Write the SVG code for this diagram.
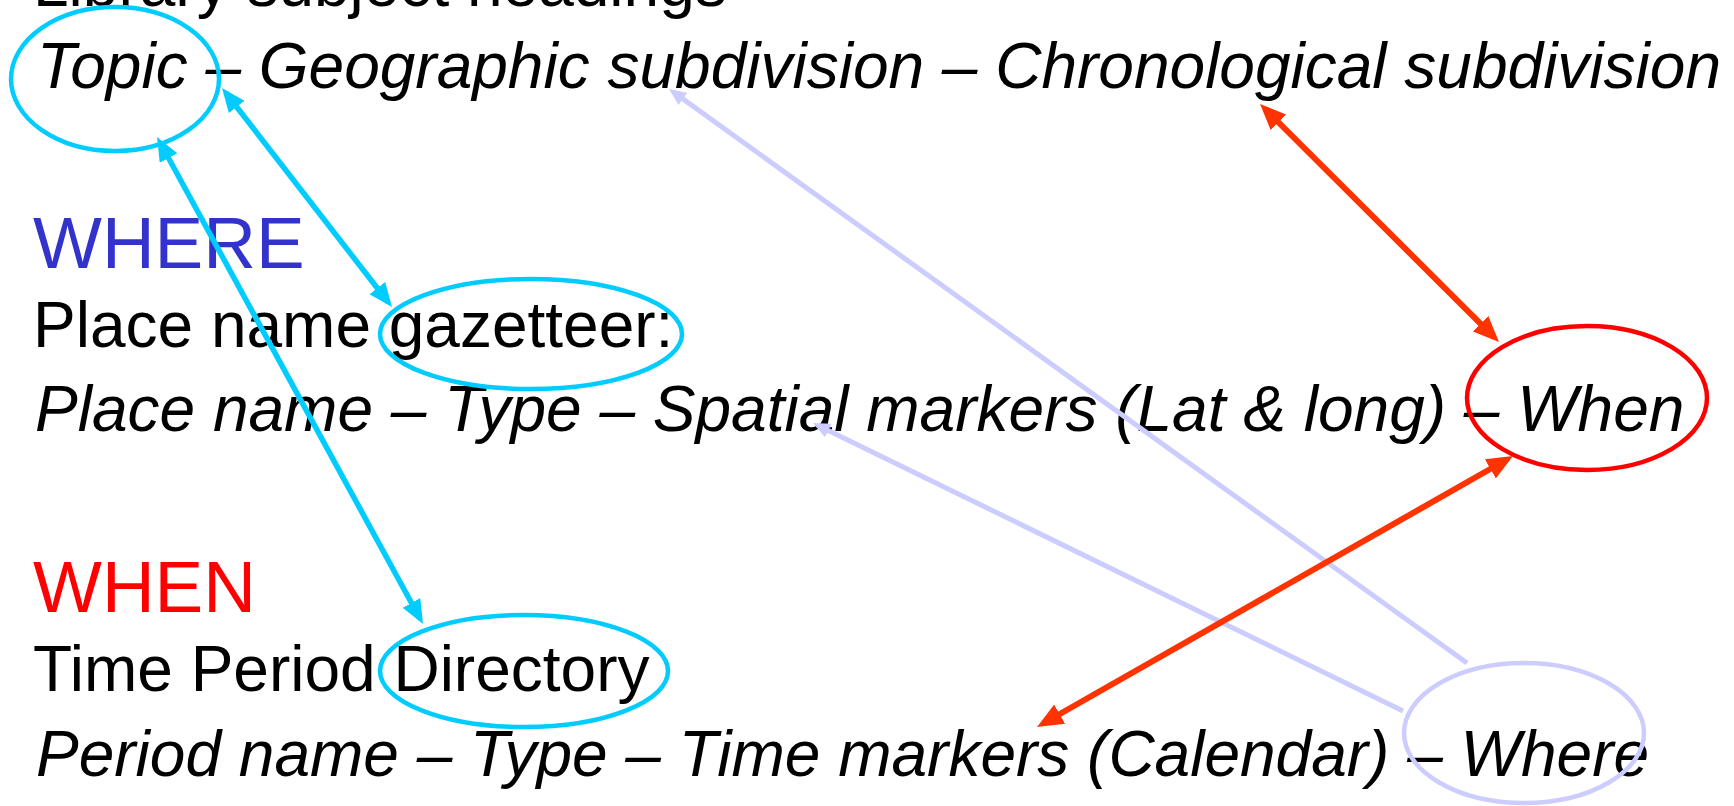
<svg xmlns="http://www.w3.org/2000/svg" width="1734" height="806" viewBox="0 0 1734 806">
<style>
  .t { font-family: "Liberation Sans", Arial, sans-serif; font-size: 64px; fill: #000; }
  .i { font-style: italic; }
  .h { font-size: 73px; }
  .ring { fill: none; stroke-width: 4.5; }
  .cy { stroke: #00CCFF; }
  .rd { stroke: #FF0000; }
  .lv { stroke: #CCCCFF; }
  .c-cy { stroke: #00CCFF; stroke-width: 5.5; fill: none; marker-start: url(#hc); marker-end: url(#hc); }
  .c-rd { stroke: #FF3300; stroke-width: 6; fill: none; marker-start: url(#hr); marker-end: url(#hr); }
  .c-lv { stroke: #CCCCFF; stroke-width: 5; fill: none; marker-end: url(#hl); }
</style>
<defs>
  <marker id="hc" markerUnits="userSpaceOnUse" markerWidth="24" markerHeight="20" viewBox="0 0 24 20" refX="18" refY="10" orient="auto-start-reverse">
    <path d="M0,0 L24,10 L0,20 z" fill="#00CCFF"/>
  </marker>
  <marker id="hr" markerUnits="userSpaceOnUse" markerWidth="26" markerHeight="22" viewBox="0 0 26 22" refX="19" refY="11" orient="auto-start-reverse">
    <path d="M0,0 L26,11 L0,22 z" fill="#FF3300"/>
  </marker>
  <marker id="hl" markerUnits="userSpaceOnUse" markerWidth="17" markerHeight="15" viewBox="0 0 17 15" refX="12" refY="7.5" orient="auto">
    <path d="M0,0 L17,7.5 L0,15 z" fill="#CCCCFF"/>
  </marker>
</defs>
<rect width="1734" height="806" fill="#FFFFFF"/>

<g id="lines">
  <text class="t" x="33" y="6">Library subject headings</text>
  <text class="t i" x="37" y="88">Topic – Geographic subdivision – Chronological subdivision</text>
  <text class="t h" x="33" y="268" style="fill:#3333CC">WHERE</text>
  <text class="t" x="33" y="347">Place name gazetteer:</text>
  <text class="t i" x="35" y="431">Place name – Type – Spatial markers (Lat &amp; long) – When</text>
  <text class="t h" x="33" y="612" style="fill:#FF0000">WHEN</text>
  <text class="t" x="33" y="691">Time Period Directory</text>
  <text class="t i" x="36" y="776">Period name – Type – Time markers (Calendar) – Where</text>
</g>

<g id="node-topic"><ellipse class="ring cy" cx="115" cy="79" rx="104" ry="72"/></g>
<g id="node-gazetteer"><ellipse class="ring cy" cx="531" cy="334" rx="151" ry="55"/></g>
<g id="node-directory"><ellipse class="ring cy" cx="524" cy="671" rx="144" ry="56"/></g>
<g id="node-when"><ellipse class="ring rd" cx="1587" cy="398" rx="120" ry="72"/></g>
<g id="node-where"><ellipse class="ring lv" cx="1524" cy="733" rx="120" ry="70"/></g>

<g id="connectors">
  <path class="c-lv" d="M1467,663 L673.1,91.9"/>
  <path class="c-lv" d="M1403,711 L817.5,425.2"/>
  <path class="c-cy" d="M225.7,92.7 L388.3,302.3"/>
  <path class="c-cy" d="M159.9,142.3 L420.1,618.7"/>
  <path class="c-rd" d="M1265,108.9 L1494,337.1"/>
  <path class="c-rd" d="M1506.9,459.5 L1043.1,723.5"/>
</g>
</svg>
